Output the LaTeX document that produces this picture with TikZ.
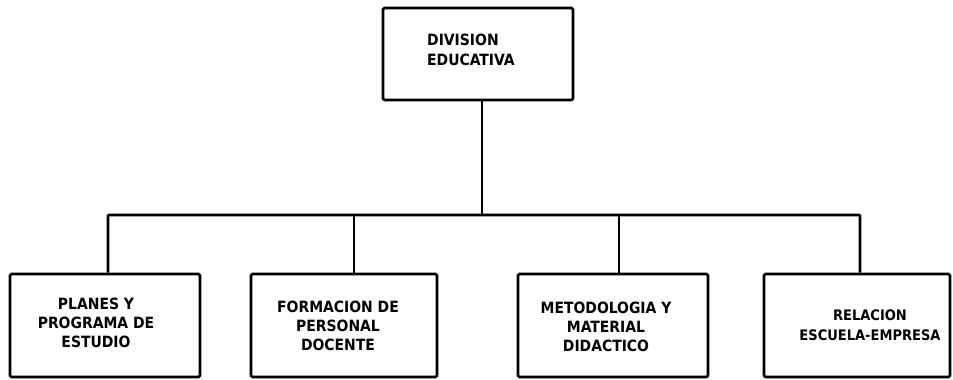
\documentclass[tikz,border=0pt]{standalone}
\usepackage{fontspec}
\setmainfont{DejaVu Sans Condensed}[BoldFont={DejaVu Sans Condensed Bold}]
\begin{document}
\begin{tikzpicture}[x=1pt,y=-1pt,
  box/.style={draw=black,line width=2.8pt,rounded corners=1.5pt,rectangle,inner sep=0pt},
  lbl/.style={inner sep=0pt,font=\fontsize{15.5}{19}\selectfont\bfseries,align=center},
  conn/.style={line width=2.6pt}]
\useasboundingbox (0,0) rectangle (953,380);
% boxes
\node[box,minimum width=190pt,minimum height=92pt] (top) at (478,54) {};
\node[box,minimum width=190pt,minimum height=103pt] (b1) at (105,325.5) {};
\node[box,minimum width=186pt,minimum height=103pt] (b2) at (344,325.5) {};
\node[box,minimum width=190pt,minimum height=103pt] (b3) at (613,325.5) {};
\node[box,minimum width=186pt,minimum height=103pt] (b4) at (857,325.5) {};
% texts
\node[lbl,align=left,anchor=west,font=\fontsize{15.5}{20}\selectfont\bfseries] (ttop) at (427,50) {DIVISION\\EDUCATIVA};
\node[lbl] (t1) at (96,323) {PLANES Y\\PROGRAMA DE\\ESTUDIO};
\node[lbl] (t2) at (338,326) {FORMACION DE\\PERSONAL\\DOCENTE};
\node[lbl] (t3) at (606,327) {METODOLOGIA Y\\MATERIAL\\DIDACTICO};
\node[lbl,font=\fontsize{14.5}{20}\selectfont\bfseries] (t4) at (870,325) {RELACION\\ESCUELA-EMPRESA};
% connectors
\coordinate (bar) at (482,215);
\draw[conn] (top.south -| bar) -- (bar);
\draw[conn,rounded corners=1pt] (b1.north -| 108,0) -- (108,215) -- (860,215) -- (b4.north -| 860,0);
\draw[conn] (354,215) -- (b2.north -| 354,0);
\draw[conn] (619,215) -- (b3.north -| 619,0);
\end{tikzpicture}
\end{document}
